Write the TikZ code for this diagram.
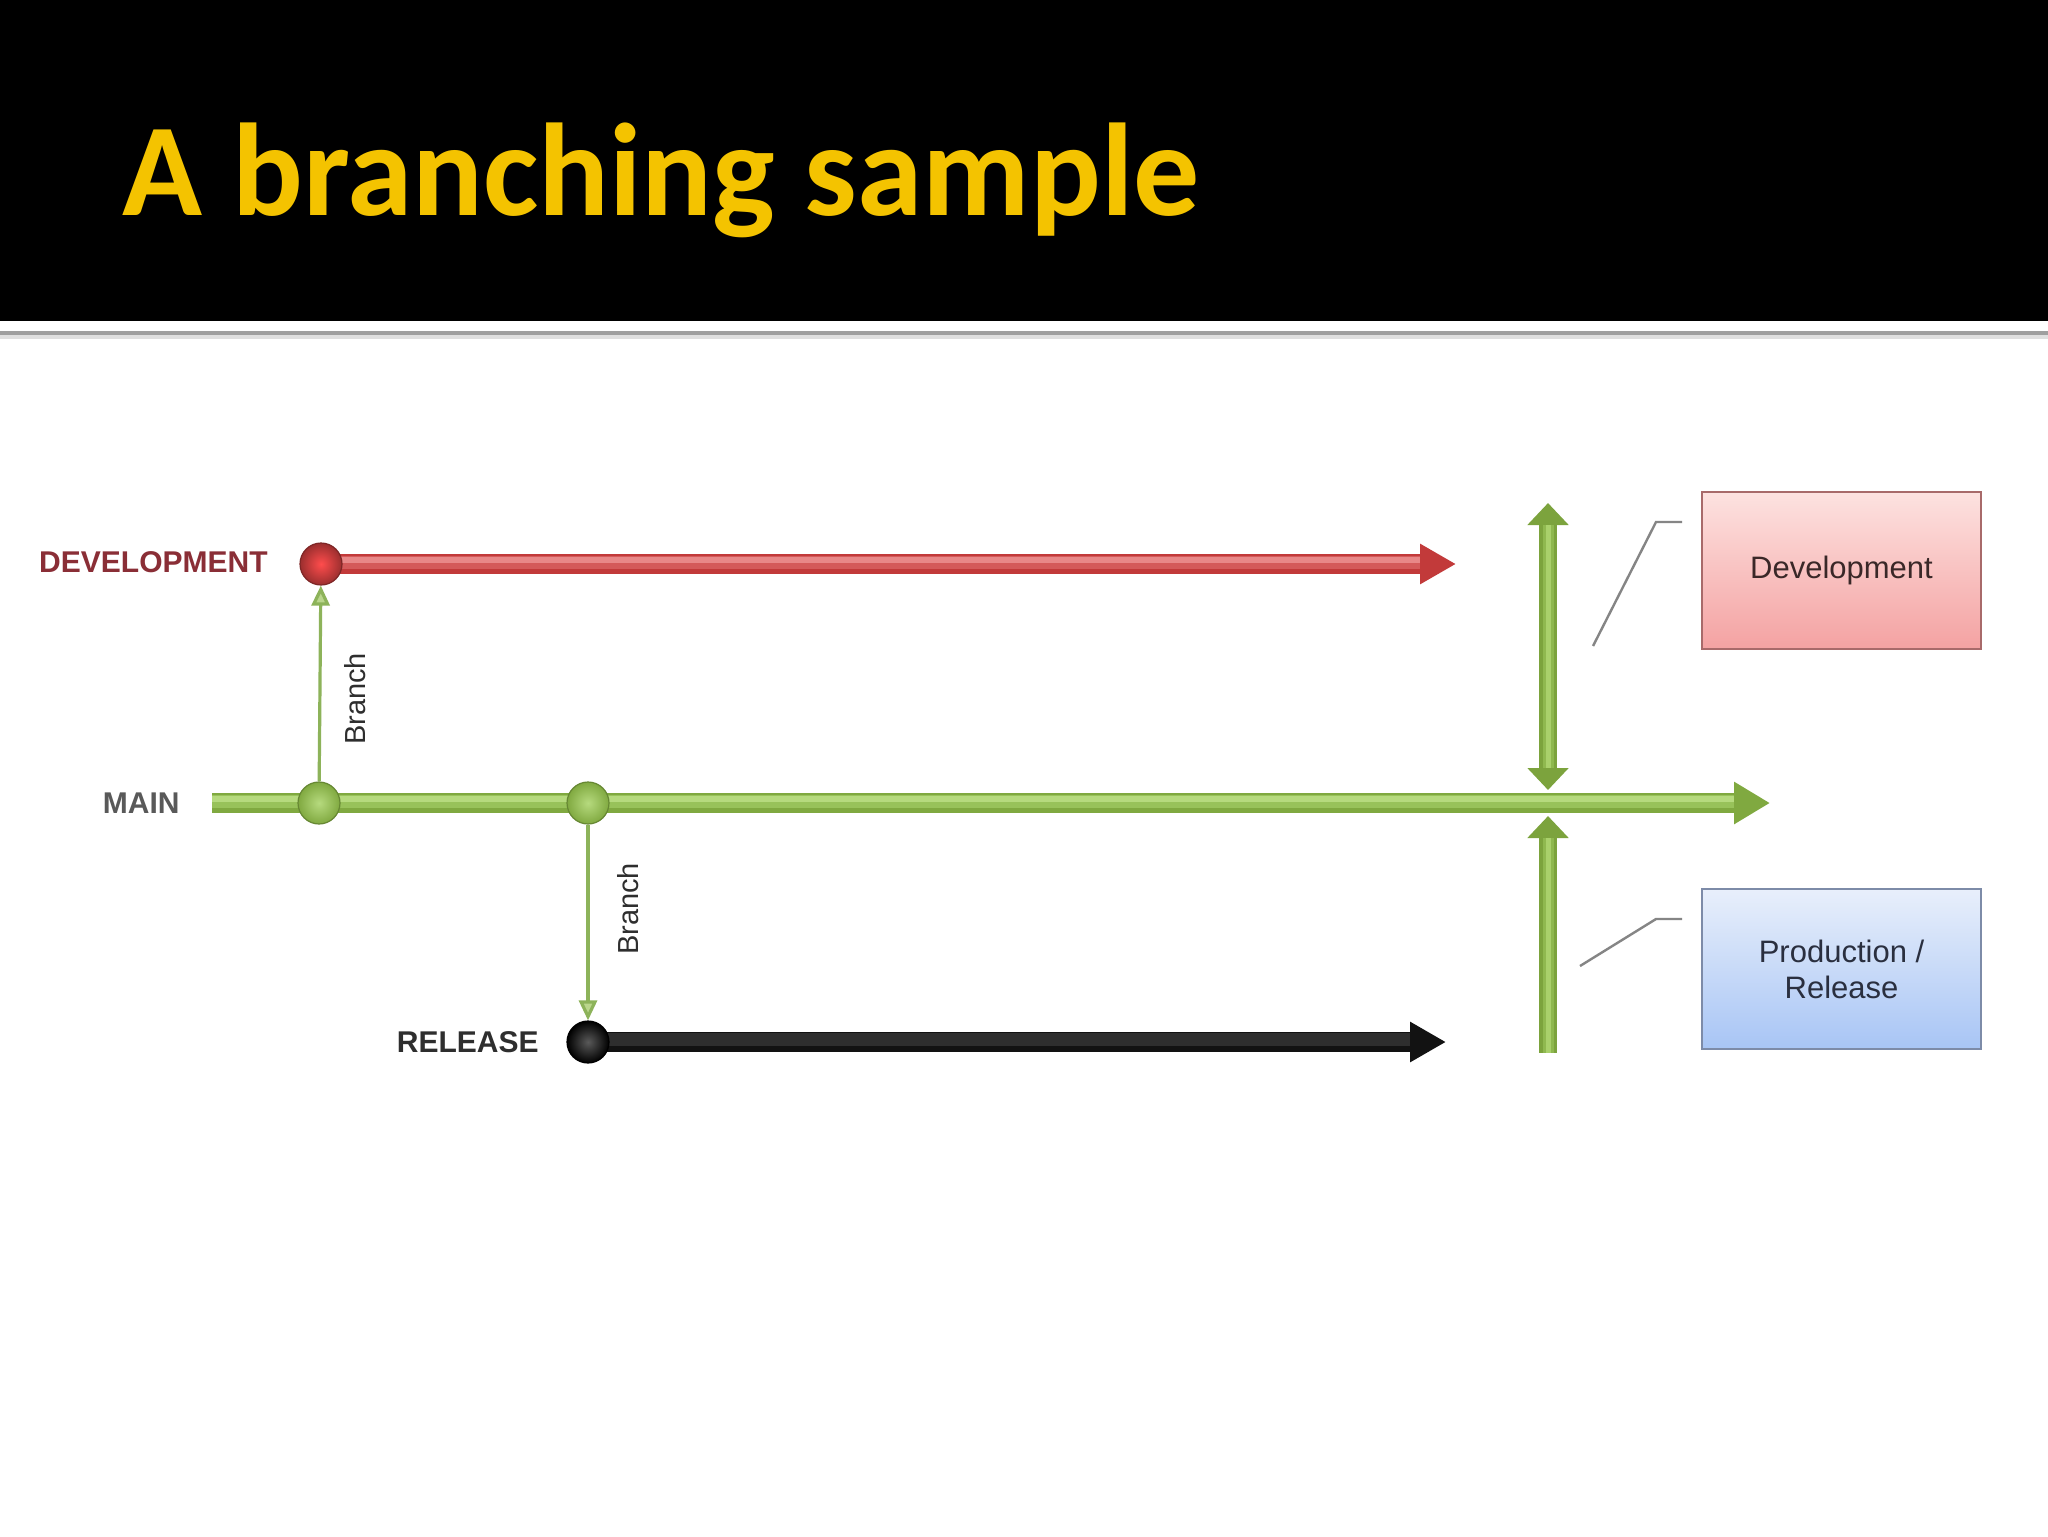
\documentclass[tikz,border=0pt]{standalone}
\usepackage{fontspec}
\setmainfont{Liberation Sans}
\newfontfamily\titlefont{Carlito}
\usetikzlibrary{arrows.meta,calc}
\definecolor{titleyellow}{HTML}{F4C300}
\definecolor{devred}{HTML}{C23A3A}
\definecolor{devredmid}{HTML}{D45A5A}
\definecolor{devredhi}{HTML}{E88888}
\definecolor{devlabel}{HTML}{8A2E36}
\definecolor{mainlabel}{HTML}{595959}
\definecolor{rellabel}{HTML}{2E2E2E}
\definecolor{maingreen}{HTML}{80A940}
\definecolor{maingreenmid}{HTML}{98C25A}
\definecolor{maingreenhi}{HTML}{B6DA7E}
\definecolor{vgreen}{HTML}{7CA33D}
\definecolor{vgreenmid}{HTML}{8FB84F}
\definecolor{vgreenhi}{HTML}{A9D06B}
\definecolor{branchgreen}{HTML}{8DB35A}
\definecolor{branchtip}{HTML}{BAD68C}
\definecolor{relblack}{HTML}{121212}
\definecolor{relblackhi}{HTML}{2E2E2E}
\definecolor{devtop}{HTML}{FDE2E0}
\definecolor{devbot}{HTML}{F4A2A2}
\definecolor{devborder}{HTML}{A86A6A}
\definecolor{devtext}{HTML}{3A2828}
\definecolor{prodtop}{HTML}{E8EFFB}
\definecolor{prodbot}{HTML}{A8C5F5}
\definecolor{prodborder}{HTML}{7D8BA8}
\definecolor{prodtext}{HTML}{2A2F3F}
\definecolor{calloutgray}{HTML}{858585}
\pgfdeclarelayer{back}
\pgfdeclarelayer{bg}
\pgfsetlayers{back,bg,main}
\begin{document}
\begin{tikzpicture}[x=0.5pt,y=-0.5pt,
  dot/.style={circle,minimum size=21pt,inner sep=0pt,line width=0.6pt},
  caplabel/.style={inner sep=0pt,font=\bfseries\fontsize{15}{18}\selectfont},
  branchlabel/.style={inner sep=0pt,rotate=90,text=rellabel,font=\fontsize{14.5}{17}\selectfont},
  brancharrow/.style={draw=branchgreen,line width=1.6pt,-{Triangle[width=9pt,length=10pt,fill=branchtip]}},
  hshaft/.style={line width=10pt,-{Triangle[width=19pt,length=18pt]}},
  hmid/.style={line width=6.5pt,line cap=butt},
  hhi/.style={line width=3pt,line cap=butt},
  vshaft/.style={draw=vgreen,line width=9pt},
  vmid/.style={draw=vgreenmid,line width=5.5pt},
  vhi/.style={draw=vgreenhi,line width=2.5pt},
  box/.style={rectangle,minimum width=139.5pt,line width=1.2pt,align=center,font=\fontsize{15.5}{18}\selectfont},
  callout/.style={draw=calloutgray,line width=1.2pt}]
\useasboundingbox (0,0) rectangle (2048,1536);
\begin{pgfonlayer}{back}
\fill[white] (0,0) rectangle (2048,1536);
\fill[black] (0,0) rectangle (2048,321);
\fill[gray!75] (0,331) rectangle (2048,335);
\fill[gray!25] (0,335) rectangle (2048,339);
\end{pgfonlayer}
\node[anchor=base west,inner sep=0pt,text=titleyellow,font=\titlefont\bfseries\fontsize{66}{70}\selectfont] (title) at (122,215) {A branching sample};

% labels
\node[caplabel,text=devlabel,anchor=east] (devlab) at (268,562) {DEVELOPMENT};
\node[caplabel,text=mainlabel,anchor=east] (mainlab) at (180,803) {MAIN};
\node[caplabel,text=rellabel,anchor=east] (rellab) at (539,1042) {RELEASE};

% dots
\node[dot,inner color=red!70!white,outer color=devred!80!black,draw=devred!65!black] (devdot) at (321,564) {};
\node[dot,inner color=maingreenhi,outer color=maingreen,draw=maingreen!80!black] (mdot1) at (319,803) {};
\node[dot,inner color=maingreenhi,outer color=maingreen,draw=maingreen!80!black] (mdot2) at (588,803) {};
\node[dot,inner color=black!65,outer color=black,draw=black] (reldot) at (588,1042) {};

% ends
\coordinate (devend) at (1456,564);
\coordinate (mainstart) at (212,803);
\coordinate (mainend) at (1770,803);
\coordinate (relend) at (1446,1042);
\coordinate (vtop) at (1548,503);
\coordinate (vmidA) at (1548,790);
\coordinate (vmidB) at (1548,816);
\coordinate (vbot) at (1548,1053);

% boxes
\node[box,minimum height=78.5pt,top color=devtop,bottom color=devbot,draw=devborder,text=devtext] (devbox) at (1841.5,570.5) {Development};
\node[box,minimum height=80pt,top color=prodtop,bottom color=prodbot,draw=prodborder,text=prodtext] (prodbox) at (1841.5,969) {Production /\\Release};

% callouts
\coordinate (c1a) at (1593,646);
\coordinate (c1b) at (1656,522);
\coordinate (c1c) at (1682,522);
\coordinate (c2a) at (1580,966);
\coordinate (c2b) at (1656,919);
\coordinate (c2c) at (1682,919);
\draw[callout] (c1a) -- (c1b) -- (c1c);
\draw[callout] (c2a) -- (c2b) -- (c2c);

% branch labels
\node[branchlabel] (br1) at (355,699) {Branch};
\node[branchlabel] (br2) at (628,909) {Branch};

\begin{pgfonlayer}{bg}
  % development arrow
  \draw[hshaft,draw=devred,fill=devred] (devdot.center) -- (devend);
  \draw[hmid,draw=devredmid] ($(devdot.center)+(0,-2)$) -- ($(devend)+(-36,-2)$);
  \draw[hhi,draw=devredhi] ($(devdot.center)+(0,-4)$) -- ($(devend)+(-36,-4)$);
  % main arrow
  \draw[hshaft,draw=maingreen,fill=maingreen,-{Triangle[width=20pt,length=18pt]}] (mainstart) -- (mainend);
  \draw[hmid,draw=maingreenmid] ($(mainstart)+(0,-2)$) -- ($(mainend)+(-36,-2)$);
  \draw[hhi,draw=maingreenhi] ($(mainstart)+(0,-4)$) -- ($(mainend)+(-36,-4)$);
  % release arrow
  \draw[hshaft,draw=relblack,fill=relblack] (reldot.center) -- (relend);
  \draw[hmid,draw=relblackhi] ($(reldot.center)+(0,-3)$) -- ($(relend)+(-36,-3)$);
  % vertical arrows
  \draw[vshaft,{Triangle[width=20pt,length=11pt,fill=vgreen]}-{Triangle[width=20pt,length=11pt,fill=vgreen]}] (vtop) -- (vmidA);
  \draw[vmid] ($(vtop)+(0,22)$) -- ($(vmidA)+(0,-22)$);
  \draw[vhi] ($(vtop)+(0,22)$) -- ($(vmidA)+(0,-22)$);
  \draw[vshaft,{Triangle[width=20pt,length=11pt,fill=vgreen]}-] (vmidB) -- (vbot);
  \draw[vmid] ($(vmidB)+(0,22)$) -- (vbot);
  \draw[vhi] ($(vmidB)+(0,22)$) -- (vbot);
\end{pgfonlayer}

% branch arrows
\draw[brancharrow] (mdot1) -- (devdot);
\draw[brancharrow] (mdot2) -- (reldot);
\end{tikzpicture}
\end{document}
